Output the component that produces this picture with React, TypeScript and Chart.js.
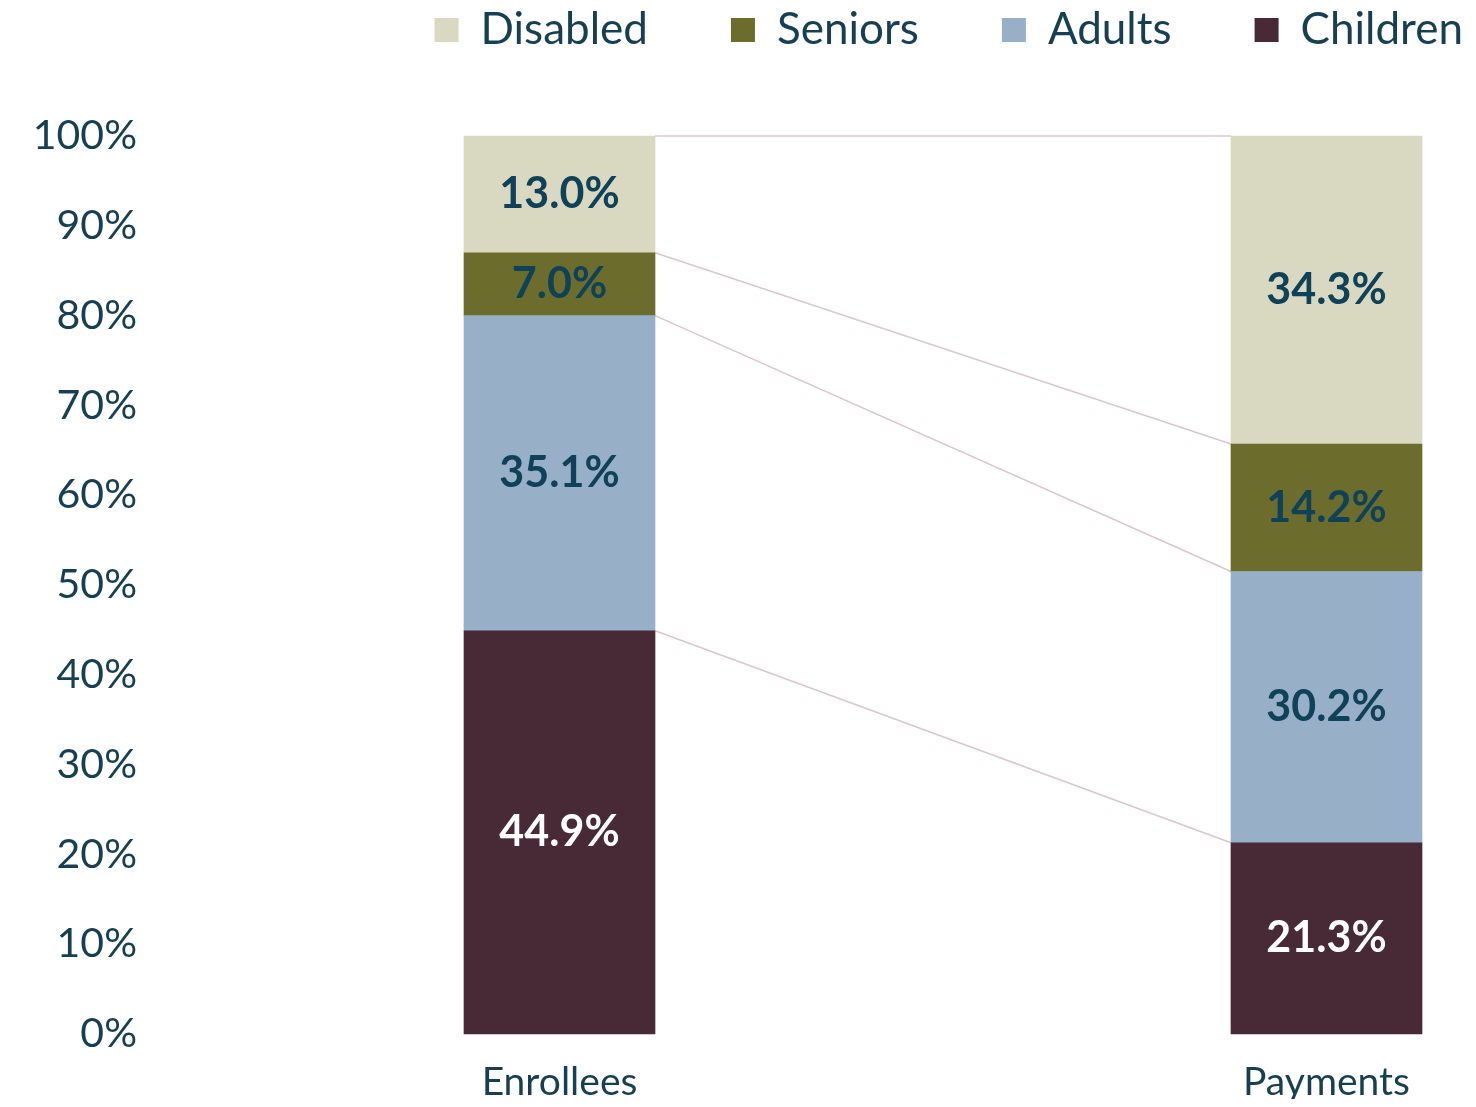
import React, { useEffect, useRef } from 'react';
import { Chart, registerables } from 'chart.js';

Chart.register(...registerables);

const categories = ['Enrollees', 'Payments'];
const seriesNames = ['Children', 'Adults', 'Seniors', 'Disabled'];
const children = [44.9, 21.3];
const adults = [35.1, 30.2];
const seniors = [7.0, 14.2];
const disabled = [13.0, 34.3];
const seriesColors = ['#472a35', '#97afc7', '#6c6d2c', '#d9d8c0'];
const labelColors = ['#ffffff', '#0f4259', '#0f4259', '#0f4259'];
const yMin = 0;
const yMax = 100;
const yStep = 10;

const textColor = '#163f52';
const fontFamily = 'Lato, "Noto Sans", sans-serif';

const seriesLinesPlugin = {
  id: 'seriesLines',
  beforeDatasetsDraw(chart: any) {
    const ctx = chart.ctx;
    ctx.save();
    ctx.strokeStyle = '#dcc6cc';
    ctx.lineWidth = 1.5;
    chart.data.datasets.forEach((_: any, i: number) => {
      const meta = chart.getDatasetMeta(i);
      for (let j = 0; j < meta.data.length - 1; j++) {
        const a = meta.data[j].getProps(['x', 'y', 'width'], true);
        const b = meta.data[j + 1].getProps(['x', 'y', 'width'], true);
        ctx.beginPath();
        ctx.moveTo(a.x + a.width / 2, a.y);
        ctx.lineTo(b.x - b.width / 2, b.y);
        ctx.stroke();
      }
    });
    ctx.restore();
  },
};

const barLabelsPlugin = {
  id: 'barLabels',
  afterDatasetsDraw(chart: any) {
    const ctx = chart.ctx;
    ctx.save();
    ctx.font = `bold 43px ${fontFamily}`;
    ctx.textAlign = 'center';
    ctx.textBaseline = 'middle';
    chart.data.datasets.forEach((ds: any, i: number) => {
      const meta = chart.getDatasetMeta(i);
      meta.data.forEach((el: any, j: number) => {
        const p = el.getProps(['x', 'y', 'base'], true);
        ctx.fillStyle = labelColors[i];
        ctx.fillText(ds.data[j].toFixed(1) + '%', p.x, (p.y + p.base) / 2);
      });
    });
    ctx.restore();
  },
};

const hidden = {
  display: true,
  grid: { display: false, drawTicks: false },
  border: { display: false },
  ticks: { display: false },
};

export default function App() {
  const canvasRef = useRef<HTMLCanvasElement | null>(null);

  useEffect(() => {
    if (!canvasRef.current) return;
    const values = [children, adults, seniors, disabled];
    const chart = new Chart(canvasRef.current, {
      type: 'bar',
      data: {
        labels: categories,
        datasets: seriesNames.map((name, i) => ({
          label: name,
          data: values[i],
          backgroundColor: seriesColors[i],
          borderWidth: 0,
          barThickness: 191,
          clip: false as any,
        })),
      },
      options: {
        animation: false,
        responsive: true,
        maintainAspectRatio: false,
        layout: { padding: { top: -83, right: -78, left: 0, bottom: 0 } },
        plugins: {
          legend: {
            display: true,
            position: 'top',
            align: 'end',
            reverse: true,
            labels: {
              boxWidth: 24,
              boxHeight: 24,
              padding: 83,
              color: textColor,
              font: { family: fontFamily, size: 44 },
            },
          },
          tooltip: { enabled: false },
        },
        scales: {
          x: {
            type: 'category',
            stacked: true,
            offset: false,
            grid: { display: false, drawTicks: false },
            border: { display: false },
            ticks: {
              color: textColor,
              font: { family: fontFamily, size: 39, lineHeight: 1 },
              padding: 29,
              maxRotation: 0,
            },
            afterFit: (s: any) => { s.height = 65; },
          },
          xTop: {
            ...hidden,
            type: 'category',
            position: 'top',
            afterFit: (s: any) => { s.height = 74; },
          },
          y: {
            ...hidden,
            stacked: true,
            min: yMin,
            max: yMax,
            weight: 0,
            afterFit: (s: any) => { s.width = 412.5; },
          },
          yLabels: {
            type: 'linear',
            position: 'left',
            weight: 1,
            min: yMin,
            max: yMax,
            grid: { display: false, drawTicks: false },
            border: { display: false },
            ticks: {
              stepSize: yStep,
              color: textColor,
              padding: 10,
              font: { family: fontFamily, size: 41 },
              callback: (v: any) => v + '%',
            },
            afterFit: (s: any) => { s.width = 139; },
          },
          yRight: {
            ...hidden,
            type: 'linear',
            position: 'right',
            afterFit: (s: any) => { s.width = 219.5; },
          },
        },
      } as any,
      plugins: [seriesLinesPlugin, barLabelsPlugin],
    });
    return () => chart.destroy();
  }, []);

  return (
    <div style={{ position: 'relative', width: 1460, height: 1091 }}>
      <canvas ref={canvasRef} />
    </div>
  );
}
